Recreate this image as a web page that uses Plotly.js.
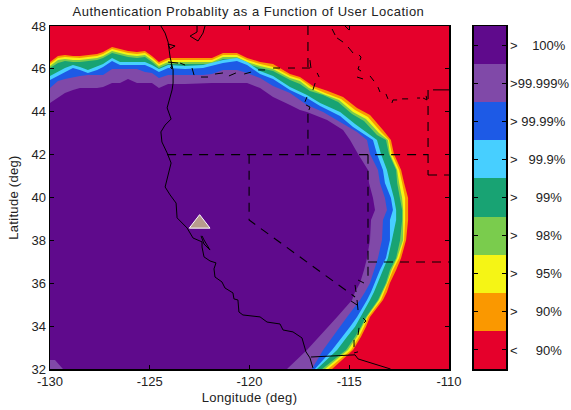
<!DOCTYPE html>
<html><head><meta charset="utf-8">
<script src="https://cdn.plot.ly/plotly-3.0.1.min.js"></script>
<style>html,body{margin:0;padding:0;background:#fff}#c{width:571px;height:410px}
.gtitle{letter-spacing:.5px}.xtitle,.ytitle{letter-spacing:.3px}</style></head>
<body><div id="c"></div>
<script>
const levelLabels=['<\u00a0\u00a0\u00a0\u00a0\u00a090%','>\u00a0\u00a0\u00a0\u00a0\u00a090%','>\u00a0\u00a0\u00a0\u00a0\u00a095%','>\u00a0\u00a0\u00a0\u00a0\u00a098%','>\u00a0\u00a0\u00a0\u00a0\u00a099%','>\u00a0\u00a0\u00a099.9%','>\u00a099.99%','>99.999%','>\u00a0\u00a0\u00a0\u00a0100%'];
const levelColors=['#E5002B','#FA9800','#F5F515','#7ACC4D','#18A373','#47CFFF','#1D5AE6','#8049A8','#5F0A8C'];
const xTickVals=[-130,-125,-120,-115,-110];
const xTickText=['-130','-125','-120','-115','-110'];
const yTickVals=[32,34,36,38,40,42,44,46,48];

// Contour boundaries: latitude read at shared longitudes along the north edge
const topLon=[-130,-129.6,-129.25,-128.85,-128.5,-128.1,-127.64,-127.34,-126.89,-126.49,-126.09,-125.64,-125.24,-124.89,-124.54,-124.08,-123.23,-122.33,-121.88,-121.33,-120.63,-120.12,-119.47,-118.82,-117.97,-117.47];
const topLat90=[46.32,46.6,46.65,46.6,46.6,46.65,46.69,46.79,47.02,46.93,46.83,46.79,46.83,46.6,46.32,46.51,46.51,46.51,46.51,46.74,46.74,46.51,46.32,46.23,45.76,45.62];
const topLat95=[46.23,46.51,46.55,46.51,46.51,46.55,46.6,46.69,46.93,46.83,46.74,46.69,46.74,46.51,46.23,46.41,46.41,46.41,46.41,46.65,46.65,46.41,46.23,46.09,45.67,45.53];
const topLat98=[46.13,46.41,46.46,46.41,46.41,46.46,46.51,46.6,46.83,46.74,46.65,46.6,46.65,46.41,46.13,46.32,46.32,46.32,46.32,46.55,46.55,46.32,46.13,45.99,45.57,45.43];
const topLat99=[46.04,46.27,46.37,46.32,46.32,46.37,46.41,46.51,46.74,46.65,46.55,46.51,46.55,46.32,46.04,46.23,46.23,46.23,46.23,46.46,46.46,46.23,46.04,45.9,45.48,45.29];
const topLat999=[45.67,45.85,46.04,46.18,46.09,45.95,46.13,46.23,46.51,46.32,46.32,46.32,46.32,46.18,45.99,46.18,46.13,46.18,46.27,46.41,46.51,46.32,45.9,45.67,45.15,44.92];
const topLat9999=[45.48,45.67,45.85,46.04,45.95,45.81,45.95,46.09,46.37,46.18,46.18,46.18,46.18,46.04,45.85,46.04,45.99,46.04,46.13,46.27,46.37,46.18,45.76,45.53,45.02,44.78];
const topLat99999=[45.11,45.43,45.53,45.62,45.67,45.71,45.71,45.71,45.99,45.99,45.99,45.99,45.85,45.81,45.57,45.71,45.71,45.71,45.76,45.95,45.95,45.81,45.57,45.2,44.88,44.55];
const topLat100=[44.41,44.64,44.88,45.02,45.11,45.11,45.11,45.15,45.34,45.34,45.53,45.34,45.34,45.34,45.11,45.29,45.29,45.34,45.34,45.34,45.34,45.34,45.11,44.69,44.32,44.08];

// Points read along the north-east shoulder
const midLon90=[-116.82,-116.11,-115.31,-114.61,-113.96,-113.31];
const midLat90=[45.2,44.98,44.69,44.18,43.85,43.15];
const midLon95=[-116.92,-116.21,-115.41,-114.71,-114.06,-113.41];
const midLat95=[45.15,44.88,44.6,44.08,43.76,43.06];
const midLon98=[-117.02,-116.31,-115.51,-114.81,-114.16,-113.51];
const midLat98=[45.11,44.83,44.55,43.99,43.66,43.01];
const midLon99=[-116.97,-116.31,-115.56,-114.86,-114.26,-113.61];
const midLat99=[44.97,44.78,44.46,43.9,43.57,42.92];
const midLon999=[-117.12,-116.46,-115.46,-114.71,-114.11];
const midLat999=[44.78,44.41,43.99,43.43,43.01];
const midLon9999=[-117.12,-116.46,-115.46,-114.81,-114.21];
const midLat9999=[44.64,44.27,43.8,43.29,42.92];
const midLon99999=[-117.12,-116.31,-115.46,-114.61];
const midLat99999=[44.32,43.99,43.52,43.06];
const midLon100=[-117.12,-116.11,-115.31];
const midLat100=[43.99,43.62,43.15];

// Longitude read at shared latitudes down the east side
const arcLat=[42.68,42.03,41.28,40.68,39.98,39.42,38.95,38.02,37.18,36.62,36.01,35.59,35.22,34.43,33.97,33.5,32.89,32];
const arcLon90=[-112.91,-112.76,-112.4,-112.25,-112.05,-112.05,-112.05,-112.15,-112.4,-112.65,-112.96,-113.11,-113.31,-113.96,-114.16,-114.41,-114.81,-115.86];
const arcLon95=[-113.01,-112.86,-112.5,-112.35,-112.2,-112.2,-112.2,-112.25,-112.5,-112.81,-113.06,-113.23,-113.41,-114.06,-114.26,-114.51,-114.91,-116.06];
const arcLon98=[-113.06,-112.96,-112.6,-112.5,-112.35,-112.3,-112.3,-112.3,-112.6,-112.88,-113.11,-113.31,-113.51,-114.11,-114.36,-114.61,-115.06,-116.21];
const arcLon99=[-113.16,-113.01,-112.65,-112.6,-112.45,-112.35,-112.35,-112.45,-112.65,-112.96,-113.16,-113.36,-113.56,-114.16,-114.41,-114.71,-115.16,-116.36];
const arcLon999=[-113.61,-113.41,-113.11,-112.96,-112.76,-112.65,-112.65,-112.86,-113.06,-113.31,-113.56,-113.76,-113.96,-114.41,-114.71,-115.11,-115.61,-116.62];
const arcLon9999=[-113.81,-113.61,-113.31,-113.21,-112.91,-112.81,-112.96,-112.96,-113.16,-113.46,-113.71,-113.91,-114.11,-114.61,-114.96,-115.36,-115.86,-116.72];
const arcLon99999=[-114.11,-113.96,-113.56,-113.46,-113.21,-113.11,-113.31,-113.36,-113.56,-113.76,-113.96,-114.21,-114.46,-115.11,-115.46,-115.81,-116.31,-116.87];
const arcLon100=[-114.96,-114.56,-114.06,-114.01,-113.81,-113.71,-113.91,-113.96,-114.11,-114.26,-114.46,-114.71,-114.86,-115.61,-116.06,-116.56,-117.12,-118.12];

const cornerLon=[-130,-129.75,-129.35,-130];
const cornerLat=[32.42,32.42,32,32];

const coastLon=[-124.44,-124.23,-124.08,-123.98,-123.83,-123.83,-123.88,-124.13,-123.93,-124.23,-124.44,-124.39,-124.13,-123.93,-124.08,-124.23,-123.98,-123.68,-123.63,-123.13,-122.83,-122.38,-122.38,-122.28,-121.98,-121.68,-121.78,-121.73,-121.38,-121.23,-120.83,-120.78,-120.58,-120.53,-120.33,-119.47,-119.12,-118.47,-118.32,-117.82,-117.37,-117.17,-116.97,-116.82,null,-122.38,-122.28,-121.98,-122.28,-122.43,null,-116.92,-114.71,-114.56,-112.93,null,-122.23,-122.33,-122.58,-122.98,-122.63,-122.63,null,-124.08,-123.73,-123.98,-124.08,null,-124.08,-123.58,null,-123.93,-123.88,-123.98];
const coastLat=[48,47.67,47.25,46.55,45.95,45.34,45.02,44.18,43.66,43.38,43.06,42.59,42.08,41.61,41.05,40.49,40.12,39.74,39.05,38.58,38.11,37.93,37.69,37.23,37.04,36.95,36.67,36.29,36.06,35.78,35.55,35.27,35.22,34.66,34.52,34.43,34.19,34.1,33.82,33.73,33.45,32.8,32.52,32.05,null,38.21,38.02,37.55,37.83,38.21,null,32.56,32.66,32.47,32,null,48,47.67,47.3,47.53,47.72,48,null,47.16,47.07,46.93,47.16,null,46.32,46.27,null,46.23,46,46.09];

const straightLon=[-124.13,-111.05,null,-120.02,-120.02,-114.71,null,-117.07,-117.07,null,-117.07,-117.07,null,-114.06,-114.06,null,-114.06,-110,null,-111.05,-111.05,null,-111.05,-110];
const straightLat=[42,42,null,42,38.95,35.36,null,48,46.04,null,42,43.99,null,42,36.3,null,36.99,36.99,null,45.02,41.05,null,41.05,41.05];

const borderLon=[-123.48,-123.23,null,-122.88,-122.78,null,-122.43,-122.08,null,-121.73,-121.33,null,-121.03,-120.68,null,-120.27,-119.92,null,-119.57,-119.22,null,-118.82,-118.47,null,-118.07,-117.72,null,-117.37,-116.97,null,-117.22,-117.12,null,-116.82,-116.71,null,-116.51,-116.61,null,-117.17,-116.97,-117.02,null,-116.97,-116.92,null,-115.86,-115.71,null,-115.61,-115.31,null,-115.06,-114.81,null,-114.51,-114.41,-114.46,null,-114.51,-114.56,-114.41,null,-114.61,-114.31,null,-113.96,-113.76,null,-113.56,-113.46,null,-113.16,-113.06,null,-112.86,-112.81,-112.6,null,-112.35,-112.05,null,-111.6,-111.45,null,-111.3,-111.1,-111.15,null,-115.21,-115.01,null,-110.8,-110,null,-114.56,-114.26,null,-114.71,-114.66,null,-114.91,-114.61,null,-114.61,-114.56,null,-114.31,-114.16,-114.26,null,-114.51,-114.56,null,-114.76,-114.76,null,-114.76,-114.56];
const borderLat=[46.27,46.18,null,46.04,45.71,null,45.62,45.62,null,45.76,45.81,null,45.67,45.81,null,45.76,45.85,null,45.95,45.95,null,46.04,46.04,null,46.04,46.04,null,46.04,46.04,null,44.46,44.69,null,45.02,45.34,null,45.62,45.81,null,44.32,44.22,44.08,null,46.41,46.04,null,47.86,47.58,null,47.44,47.25,null,47.02,46.74,null,46.65,46.55,46.41,null,46.13,45.99,45.9,null,45.62,45.53,null,45.67,45.43,null,45.15,44.92,null,44.83,44.6,null,44.41,44.55,44.55,null,44.6,44.6,null,44.64,44.64,null,44.64,44.55,44.74,null,48,47.81,null,45.02,45.02,null,36.15,36.01,null,35.92,35.59,null,35.17,34.99,null,35.22,34.75,null,34.38,34.24,34.15,null,33.92,33.59,null,33.36,33.03,null,32.75,32.8];

const siteLon=[-122.5];
const siteLat=[38.78];

const xRange=[-130,-110], yRange=[32,48];
function band(color,tl,ml,mo,al){
  const x=[...topLon,...mo,...al,xRange[0]];
  const y=[...tl,...ml,...arcLat,yRange[0]];
  return {type:'scatter',mode:'lines',x,y,fill:'toself',fillcolor:color,line:{width:0},hoverinfo:'skip',showlegend:false};
}
const traces=[
  band(levelColors[1],topLat90,midLat90,midLon90,arcLon90),
  band(levelColors[2],topLat95,midLat95,midLon95,arcLon95),
  band(levelColors[3],topLat98,midLat98,midLon98,arcLon98),
  band(levelColors[4],topLat99,midLat99,midLon99,arcLon99),
  band(levelColors[5],topLat999,midLat999,midLon999,arcLon999),
  band(levelColors[6],topLat9999,midLat9999,midLon9999,arcLon9999),
  band(levelColors[7],topLat99999,midLat99999,midLon99999,arcLon99999),
  band(levelColors[8],topLat100,midLat100,midLon100,arcLon100),
  {type:'scatter',mode:'lines',x:cornerLon,y:cornerLat,fill:'toself',fillcolor:levelColors[7],line:{width:0},showlegend:false},
  {type:'scatter',mode:'lines',x:coastLon,y:coastLat,line:{color:'#000',width:1},connectgaps:false,showlegend:false},
  {type:'scatter',mode:'lines',x:straightLon,y:straightLat,line:{color:'#000',width:1.1,dash:'9px,7px'},connectgaps:false,showlegend:false},
  {type:'scatter',mode:'lines',x:borderLon,y:borderLat,line:{color:'#000',width:1},connectgaps:false,showlegend:false},
  {type:'scatter',mode:'markers',x:siteLon,y:siteLat,marker:{symbol:'triangle-up',size:18,color:'#B89C8C',line:{color:'#fff',width:1}},showlegend:false},
  {type:'heatmap',xaxis:'x2',yaxis:'y2',z:levelLabels.map((_,i)=>[i]),x:[0],y:levelLabels.map((_,i)=>i),zmin:-0.5,zmax:8.5,showscale:false,
   colorscale:levelColors.flatMap((c,i)=>[[i/9,c],[(i+1)/9,c]]),hoverinfo:'skip'}
];
const font={family:'"Liberation Sans",Arial,sans-serif',size:13,color:'#222'};
const layout={
  width:571,height:410,margin:{l:50,r:65,t:26,b:41},paper_bgcolor:'#fff',plot_bgcolor:levelColors[0],showlegend:false,font,
  title:{text:'Authentication Probablity as a Function of User Location',font:{...font,size:13},x:0.4352,xanchor:'center',y:0.982,yanchor:'top'},
  xaxis:{domain:[0,0.875],range:xRange,tickvals:xTickVals,ticktext:xTickText,ticks:'inside',ticklen:4,tickcolor:'#000',showline:true,linecolor:'#000',linewidth:1.5,mirror:'ticks',showgrid:false,zeroline:false,title:{text:'Longitude (deg)',font:{...font,size:13},standoff:5}},
  yaxis:{domain:[0,1],range:yRange,tickvals:yTickVals,ticks:'inside',ticklen:4,tickcolor:'#000',showline:true,linecolor:'#000',linewidth:1.5,mirror:'ticks',showgrid:false,zeroline:false,title:{text:'Latitude (deg)',font:{...font,size:13},standoff:10}},
  xaxis2:{domain:[0.9298,1],anchor:'y2',showticklabels:false,ticks:'',showline:true,linecolor:'#000',linewidth:1.5,mirror:true,showgrid:false,zeroline:false},
  yaxis2:{domain:[0,1],anchor:'x2',side:'right',range:[-0.5,8.5],tickvals:levelLabels.map((_,i)=>i),ticktext:levelLabels,ticks:'inside',ticklen:4,tickcolor:'#000',showline:true,linecolor:'#000',linewidth:1.5,mirror:'ticks',showgrid:false,zeroline:false}
};
Plotly.newPlot('c',traces,layout,{displayModeBar:false,staticPlot:true});
</script></body></html>
